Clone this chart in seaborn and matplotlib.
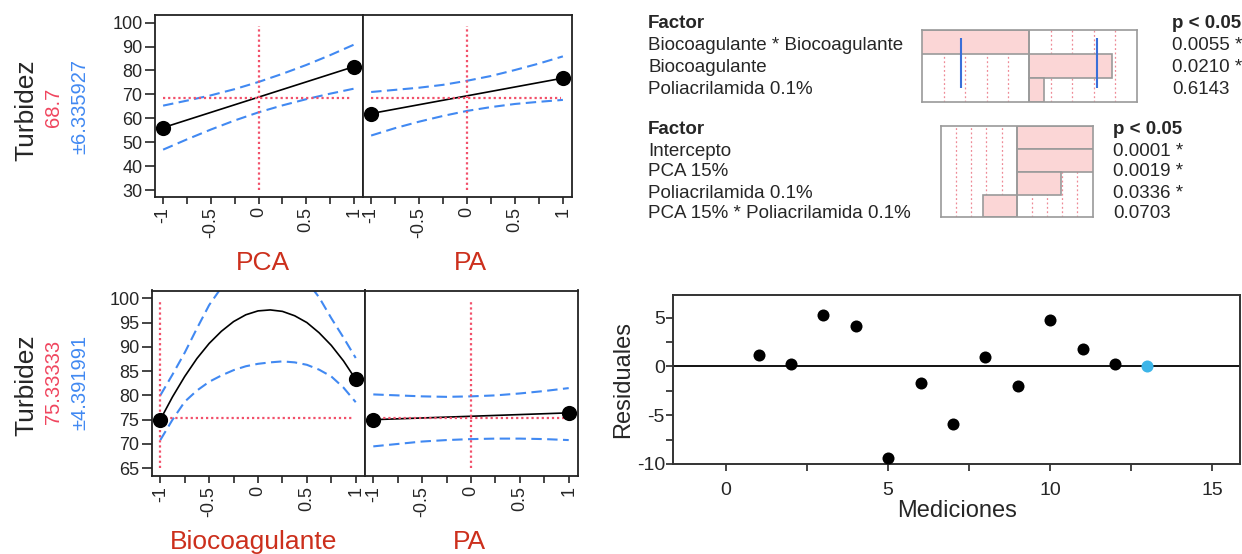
import matplotlib
matplotlib.use('Agg')
import matplotlib.pyplot as plt
import seaborn as sns
from matplotlib.ticker import FixedLocator

# Profiler top row: PCA and PA (Turbidez)
pca_dots_x = [-1, 1]
pca_dots_y = [56.1, 81.6]
ci_x = [-1, -0.75, -0.5, -0.25, 0, 0.25, 0.5, 0.75, 1]
pca_hi = [65.3, 67.4, 69.6, 72.2, 75.2, 78.6, 82.3, 86.4, 90.8]
pca_lo = [46.9, 51.2, 55.3, 59.1, 62.5, 65.4, 68.0, 70.3, 72.4]
pa_top_dots_y = [62.0, 76.8]
pa_top_hi = [71.0, 71.9, 72.8, 74.0, 75.7, 77.7, 80.2, 82.9, 85.9]
pa_top_lo = [52.8, 55.9, 58.6, 61.0, 63.1, 64.7, 66.0, 66.9, 67.7]
top_value = '68.7'
top_ci = '±6.335927'

# Profiler bottom row: Biocoagulante and PA
bio_x = [-1, -0.875, -0.75, -0.625, -0.5, -0.375, -0.25, -0.125, 0,
         0.125, 0.25, 0.375, 0.5, 0.625, 0.75, 0.875, 1]
bio_y = [75.0, 79.7, 83.9, 87.6, 90.7, 93.2, 95.2, 96.6, 97.4,
         97.6, 97.3, 96.4, 95.0, 92.9, 90.3, 87.1, 83.3]
bio_hi = [80.0, 84.3, 88.8, 93.8, 98.6, 102.2, 105.0, 107.2, 108.4,
          108.5, 107.8, 106.0, 103.5, 100.2, 95.9, 91.9, 87.7]
bio_lo = [70.8, 75.0, 78.7, 81.0, 82.8, 84.1, 85.2, 86.0, 86.5,
          86.8, 87.0, 86.8, 86.3, 85.3, 83.9, 81.6, 78.6]
bio_dots_y = [75.0, 83.3]
pa_bot_dots_y = [75.0, 76.4]
pa_bot_hi = [80.2, 80.0, 79.8, 79.7, 79.8, 80.0, 80.4, 80.9, 81.5]
pa_bot_lo = [69.5, 70.0, 70.5, 70.8, 71.0, 71.1, 71.1, 71.0, 70.8]
bot_value = '75.33333'
bot_ci = '±4.391991'

# Parameter estimate tables
factors1 = ['Biocoagulante * Biocoagulante', 'Biocoagulante', 'Poliacrilamida 0.1%']
tratio1 = [-6.9, 3.85, 0.69]
pvals1 = ['0.0055 *', '0.0210 *', '0.6143']
factors2 = ['Intercepto', 'PCA 15%', 'Poliacrilamida 0.1%', 'PCA 15% * Poliacrilamida 0.1%']
tratio2 = [14.0, 6.9, 2.92, -2.21]
pvals2 = ['0.0001 *', '0.0019 *', '0.0336 *', '0.0703']
t_crit = 3.182

# Residuals
mediciones = [1, 2, 3, 4, 5, 6, 7, 8, 9, 10, 11, 12]
residuales = [1.14, 0.21, 5.31, 4.1, -9.38, -1.69, -5.9, 0.97, -2.0, 4.72, 1.76, 0.21]
extra_x = [13]
extra_y = [0.0]

sns.set_style('white')
plt.rcParams['font.family'] = ['Liberation Sans', 'DejaVu Sans']
plt.rcParams['axes.unicode_minus'] = False

W, H = 1242, 554
fig = plt.figure(figsize=(W / 100, H / 100), dpi=100)

RED = '#f2506a'
BLUE = '#4189f2'
LBL_RED = '#cc2f1c'
PINK = '#fbd6d6'
GRAY = '#9a9a9a'


def box(x0, y0, x1, y1):
    return [x0 / W, 1 - y1 / H, (x1 - x0) / W, (y1 - y0) / H]


def ftext(x, y, s, **kw):
    fig.text(x / W, 1 - y / H, s, **kw)


def profile(ax, dots_y, cx, lo, hi, line_x, line_y, cur_x, cur_y, vspan, ylim, yticks):
    sns.lineplot(x=cx, y=hi, ax=ax, color=BLUE, lw=1.5, linestyle=(0, (5, 2.6)), sort=False)
    sns.lineplot(x=cx, y=lo, ax=ax, color=BLUE, lw=1.5, linestyle=(0, (5, 2.6)), sort=False)
    sns.lineplot(x=line_x, y=line_y, ax=ax, color='black', lw=1.2, sort=False)
    ax.hlines(cur_y, min(cx), max(cx) - 0.02, color=RED, lw=1.6, linestyles=(0, (1, 1.3)))
    ax.vlines(cur_x, vspan[0], vspan[1], color=RED, lw=1.6, linestyles=(0, (1, 1.3)))
    sns.scatterplot(x=pca_dots_x, y=dots_y, ax=ax, color='black', s=120, linewidth=0, zorder=5)
    ax.set_xlim(-1.085, 1.095)
    ax.set_ylim(ylim)
    ax.xaxis.set_major_locator(FixedLocator([-1, -0.5, 0, 0.5, 1]))
    ax.xaxis.set_minor_locator(FixedLocator([-0.75, -0.25, 0.25, 0.75]))
    ax.set_xticklabels(['-1', '-0.5', '0', '0.5', '1'])
    ax.tick_params(axis='x', which='both', length=5, width=1.2, direction='out',
                   labelsize=13, labelrotation=90, pad=2, bottom=True)
    if len(yticks):
        ax.set_yticks(yticks)
        ax.tick_params(axis='y', length=7, width=1.2, direction='out', labelsize=13, pad=2, left=True)
    else:
        ax.set_yticks([])
    for sp in ax.spines.values():
        sp.set_color('#222222')
        sp.set_linewidth(1.3)
    ax.set_xlabel('')
    ax.set_ylabel('')


# top row
ax1 = fig.add_axes(box(155, 15, 363, 197))
profile(ax1, pca_dots_y, ci_x, pca_lo, pca_hi, pca_dots_x, pca_dots_y, 0, float(top_value),
        (30, 98.6), (27.1, 103.2), list(range(30, 101, 10)))
ax2 = fig.add_axes(box(363, 15, 572, 197))
profile(ax2, pa_top_dots_y, ci_x, pa_top_lo, pa_top_hi, pca_dots_x, pa_top_dots_y, 0,
        float(top_value), (30, 98.6), (27.1, 103.2), [])

# bottom row
ax3 = fig.add_axes(box(152, 290.5, 365, 476))
profile(ax3, bio_dots_y, bio_x, bio_lo, bio_hi, bio_x, bio_y, -1, float(bot_value),
        (65, 99.5), (63.4, 101.6), list(range(65, 101, 5)))
ax4 = fig.add_axes(box(365, 290.5, 578, 476))
profile(ax4, pa_bot_dots_y, ci_x, pa_bot_lo, pa_bot_hi, pca_dots_x, pa_bot_dots_y, 0,
        float(bot_value), (65, 99.5), (63.4, 101.6), [])

# left labels
for yc, val, ci in [(110, top_value, top_ci), (385, bot_value, bot_ci)]:
    ftext(26, yc, 'Turbidez', rotation=90, ha='center', va='center', fontsize=19)
    ftext(53, yc - 3, val, rotation=90, ha='center', va='center', fontsize=14.5, color='#f0455e')
    ftext(80, yc - 3, ci, rotation=90, ha='center', va='center', fontsize=14.5, color=BLUE)

ftext(263, 263, 'PCA', ha='center', va='center', fontsize=19, color=LBL_RED)
ftext(470, 263, 'PA', ha='center', va='center', fontsize=19, color=LBL_RED)
ftext(254, 542, 'Biocoagulante', ha='center', va='center', fontsize=19, color=LBL_RED)
ftext(469, 542, 'PA', ha='center', va='center', fontsize=19, color=LBL_RED)


# parameter estimate tables
def table(bx, factors, tratio, pvals, y_head, y_rows, px_col, blue):
    ax = fig.add_axes(bx)
    for v in [-4, -3, -2, -1, 1, 2, 3, 4]:
        ax.axvline(v, color='#ee8a96', lw=0.9, ls=(0, (1.5, 2)), zorder=0)
    sns.barplot(x=tratio, y=factors, orient='h', ax=ax, width=1.0, color=PINK,
                saturation=1, edgecolor=GRAY, linewidth=1.2, zorder=1)
    ax.axvline(0, color=GRAY, lw=1.2, zorder=3)
    if blue:
        ax.vlines([-t_crit, t_crit], -0.15, 1.94, color='#3a6fd8', lw=1.5, zorder=4)
    ax.set_xlim(-5.0, 5.05)
    ax.set_ylim(len(factors) - 0.5, -0.5)
    ax.set_xticks([])
    ax.set_yticks([])
    ax.set_xlabel('')
    ax.set_ylabel('')
    for sp in ax.spines.values():
        sp.set_color(GRAY)
        sp.set_linewidth(1.2)
    ftext(648, y_head, 'Factor', fontweight='bold', fontsize=13.5, va='center')
    ftext(px_col, y_head, 'p < 0.05', fontweight='bold', fontsize=13.5, va='center')
    for name, p, yr in zip(factors, pvals, y_rows):
        ftext(648, yr, name, fontsize=13.5, va='center')
        ftext(px_col, yr, p, fontsize=13.5, va='center')


table(box(922.3, 30, 1137.4, 101.7), factors1, tratio1, pvals1, 24, [46, 68, 90], 1172, True)
table(box(941, 126.3, 1093.3, 217.3), factors2, tratio2, pvals2, 129, [151, 172, 193, 214], 1113, False)

# residual plot
ax5 = fig.add_axes(box(673.3, 295, 1240, 464))
ax5.axhline(0, color='black', lw=1.3, zorder=1)
sns.scatterplot(x=mediciones, y=residuales, ax=ax5, color='black', s=75, linewidth=0, zorder=3)
sns.scatterplot(x=extra_x, y=extra_y, ax=ax5, color='#3db5e8', s=75, linewidth=0, zorder=3)
ax5.set_xlim(-1.63, 15.86)
ax5.set_ylim(-10, 7.33)
ax5.xaxis.set_major_locator(FixedLocator([0, 5, 10, 15]))
ax5.xaxis.set_minor_locator(FixedLocator([2.5, 7.5, 12.5]))
ax5.yaxis.set_major_locator(FixedLocator([-10, -5, 0, 5]))
ax5.yaxis.set_minor_locator(FixedLocator([-7.5, -2.5, 2.5]))
ax5.tick_params(axis='both', which='both', length=5, width=1.2, direction='out',
                labelsize=14, bottom=True, left=True)
ax5.tick_params(axis='x', pad=8)
ax5.tick_params(axis='y', pad=1)
for sp in ax5.spines.values():
    sp.set_color('#333333')
    sp.set_linewidth(1.4)
ax5.set_xlabel('Mediciones', fontsize=17, labelpad=1)
ax5.set_ylabel('Residuales', fontsize=17, labelpad=2)

fig.savefig('out.png', dpi=100)
